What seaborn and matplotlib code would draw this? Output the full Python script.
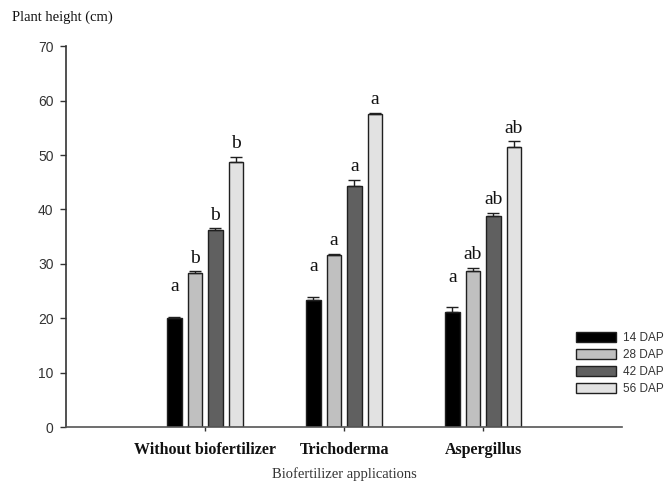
import matplotlib
matplotlib.use("Agg")
import pandas as pd
import seaborn as sns
import matplotlib.pyplot as plt

# values
groups = ['Without biofertilizer', 'Trichoderma', 'Aspergillus']
days = ['14 DAP', '28 DAP', '42 DAP', '56 DAP']
without = [20.1, 28.4, 36.2, 48.7]
tricho = [23.3, 31.6, 44.3, 57.5]
asper = [21.2, 28.7, 38.8, 51.5]
without_se = [0.2, 0.2, 0.3, 0.9]
tricho_se = [0.6, 0.2, 1.2, 0.2]
asper_se = [0.8, 0.6, 0.5, 1.0]
without_let = ['a', 'b', 'b', 'b']
tricho_let = ['a', 'a', 'a', 'a']
asper_let = ['a', 'ab', 'ab', 'ab']

heights = [without, tricho, asper]
ses = [without_se, tricho_se, asper_se]
letters = [without_let, tricho_let, asper_let]

rows = []
for g, h, s, l in zip(groups, heights, ses, letters):
    for d, v, e, t in zip(days, h, s, l):
        rows.append({'group': g, 'day': d, 'height': v, 'se': e, 'letter': t})
df = pd.DataFrame(rows)

sns.set_style("white")
serif = 'Liberation Serif'
sans = 'Liberation Sans'

fig = plt.figure(figsize=(6.67, 4.91), dpi=100)
ax = fig.add_axes([0.099, 0.130, 0.834, 0.776])
colors = ['#000000', '#c0c0c0', '#606060', '#e2e2e2']
sns.barplot(data=df, x='group', y='height', hue='day', order=groups, hue_order=days,
            palette=colors, width=0.59, gap=0.3, edgecolor='#202020', linewidth=1,
            errorbar=None, legend=False, ax=ax)

bars = list(ax.containers)
for i, cont in enumerate(bars):
    sub = df[df['day'] == days[i]].set_index('group').loc[groups]
    for bar, v, e, t in zip(cont.patches, sub['height'], sub['se'], sub['letter']):
        xc = bar.get_x() + bar.get_width() / 2
        ax.errorbar(xc, v, yerr=[[0], [e]], fmt='none', ecolor='#202020',
                    elinewidth=1, capsize=4, capthick=1)
        off = 4.0 if i == 0 else 0.9
        ax.text(xc, v + e + off, t, ha='center', va='bottom', fontsize=14,
                family=serif, color='#111111')

ax.set_xlim(-1, 3)
ax.set_ylim(0, 70)
ax.set_yticks(range(0, 71, 10))
sns.despine(ax=ax)
ax.spines['left'].set_linewidth(1.2)
ax.spines['bottom'].set_linewidth(1.2)
ax.spines['left'].set_color('#333333')
ax.spines['bottom'].set_color('#555555')
ax.tick_params(axis='y', direction='out', length=4, width=1, left=True,
               labelsize=10, colors='#333333', pad=5)
ax.tick_params(axis='x', direction='out', length=3, width=1, bottom=True,
               labelsize=11.5, colors='#333333', pad=8)
for lab in ax.get_yticklabels():
    lab.set_family(sans)
for lab in ax.get_xticklabels():
    lab.set_family(serif)
    lab.set_fontweight('bold')
    lab.set_color('#111111')

ax.set_xlabel('Biofertilizer applications', family=serif, fontsize=10.5,
              color='#333333', labelpad=6)
ax.set_ylabel('')
fig.text(0.018, 0.965, 'Plant height (cm)', family=serif, fontsize=10.5,
         color='#111111', ha='left', va='center')

leg = ax.legend(bars, days, loc='upper left', bbox_to_anchor=(0.848, 0.345),
                bbox_transform=fig.transFigure, frameon=False, handlelength=3.4,
                handleheight=0.95, labelspacing=0.4, handletextpad=0.6,
                prop={'family': sans, 'size': 8.5})
for t in leg.get_texts():
    t.set_color('#333333')

plt.savefig("out.png", dpi=100)
